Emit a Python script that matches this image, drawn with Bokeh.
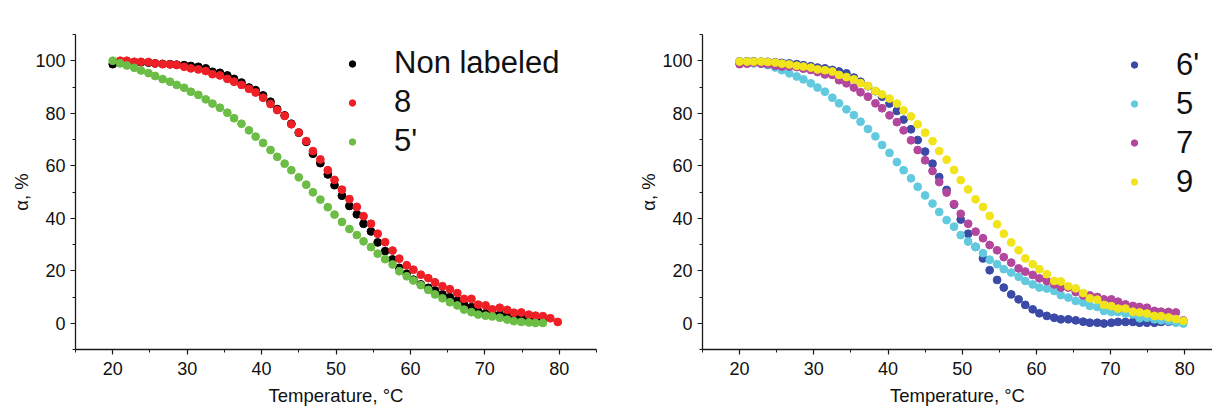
from bokeh.plotting import figure
from bokeh.models import FixedTicker, Legend, LegendItem, Range1d
from bokeh.layouts import row
from bokeh.embed import file_html
from bokeh.resources import INLINE

# ---------------- data ----------------
temperature = [20.0, 21.0, 21.9, 22.9, 23.8, 24.8, 25.7, 26.7, 27.7, 28.6,
               29.6, 30.5, 31.5, 32.5, 33.4, 34.4, 35.4, 36.3, 37.3, 38.3,
               39.2, 40.2, 41.2, 42.1, 43.1, 44.0, 45.0, 46.0, 46.9, 47.9,
               48.9, 49.8, 50.8, 51.8, 52.8, 53.7, 54.7, 55.6, 56.6, 57.6,
               58.5, 59.5, 60.4, 61.4, 62.4, 63.3, 64.3, 65.3, 66.3, 67.2,
               68.2, 69.1, 70.1, 71.0, 72.0, 73.0, 73.9, 74.9, 75.9, 76.8,
               77.8, 78.8, 79.8]

# left panel
non_labeled = [98.7, 99.3, 99.5, 99.5, 99.4, 99.3, 99.0, 98.8, 98.7, 98.5,
               98.3, 98.0, 97.7, 97.1, 95.8, 95.4, 94.4, 93.1, 91.7, 89.8,
               88.8, 86.8, 84.4, 81.6, 79.2, 76.0, 72.6, 69.1, 64.6, 61.0,
               56.7, 52.6, 48.6, 44.7, 41.5, 37.9, 35.0, 30.8, 27.5, 24.3,
               21.1, 18.9, 16.6, 14.8, 13.5, 12.5, 11.0, 9.9, 8.6, 7.2,
               6.1, 4.5, 3.8, 3.4, 3.3, 2.8, 2.4, 2.2, 1.8, 1.6, 1.4]
label_8 = [100.0, 100.0, 99.6, 99.6, 99.5, 99.0, 98.7, 98.6, 98.4, 97.7,
           97.1, 96.7, 96.1, 94.9, 94.4, 93.1, 92.0, 90.8, 89.3, 87.9,
           85.9, 83.5, 81.2, 79.0, 75.8, 72.7, 69.4, 65.6, 62.4, 58.3,
           54.6, 50.9, 47.3, 44.3, 40.8, 37.9, 34.1, 30.9, 27.7, 24.6,
           22.1, 20.4, 18.5, 17.2, 15.6, 14.1, 13.0, 11.5, 9.3, 9.3,
           7.1, 6.8, 5.3, 5.9, 5.1, 4.0, 4.1, 3.3, 2.9, 2.7, 1.9, 0.5]
label_5p = [100.0, 99.0, 98.2, 97.3, 96.3, 95.3, 94.2, 93.0, 92.0, 90.8,
            89.7, 88.2, 87.0, 85.3, 83.7, 82.1, 80.2, 78.1, 76.0, 73.5,
            71.1, 68.7, 66.0, 63.4, 60.8, 58.3, 55.6, 52.8, 49.9, 47.1,
            44.2, 41.4, 38.6, 35.9, 33.6, 31.2, 29.0, 26.5, 24.4, 22.4,
            19.8, 17.9, 16.3, 14.5, 12.7, 11.0, 9.5, 8.0, 6.8, 5.2,
            4.2, 3.3, 2.9, 2.6, 2.1, 1.4, 0.8, 0.5, 0.3, 0.1, 0.1]

# right panel
label_6p = [99.8, 99.8, 99.8, 99.7, 99.6, 99.4, 99.2, 99.0, 98.7, 98.3,
            97.9, 97.4, 97.1, 96.5, 95.9, 95.2, 93.6, 92.0, 90.3, 88.4,
            86.3, 83.7, 80.9, 77.6, 73.9, 69.8, 65.4, 60.8, 55.7, 50.8,
            45.2, 39.5, 34.1, 29.1, 24.7, 20.2, 16.5, 13.6, 11.0, 9.1,
            7.0, 5.3, 3.8, 2.8, 2.1, 1.5, 1.5, 1.1, 0.6, 0.2,
            0.2, -0.1, 0.2, 0.5, 0.5, 0.5, 0.2, 0.2, 0.2, 0.5, 0.6, 0.9]
label_5 = [99.7, 99.3, 99.0, 98.9, 98.3, 97.4, 96.4, 95.2, 94.0, 92.9,
           91.4, 89.8, 88.2, 85.9, 83.8, 81.5, 79.3, 76.8, 74.0, 71.2,
           67.9, 64.9, 61.4, 58.3, 55.2, 52.0, 48.7, 45.6, 42.4, 39.3,
           36.8, 33.6, 31.1, 29.1, 26.7, 24.2, 22.5, 20.6, 19.3, 17.7,
           16.1, 14.8, 13.6, 13.2, 12.3, 10.7, 9.8, 8.5, 7.9, 6.6,
           6.2, 4.7, 4.3, 4.3, 3.7, 3.4, 1.9, 2.1, 1.5, 1.1, 0.9, 0.2, -0.1]
label_7 = [98.7, 98.9, 99.3, 98.9, 98.7, 98.1, 97.8, 97.8, 97.6, 97.0,
           96.5, 95.7, 94.8, 94.6, 92.6, 91.4, 89.8, 88.0, 86.3, 83.8,
           81.9, 79.2, 76.6, 73.5, 69.7, 66.0, 62.1, 58.0, 53.8, 49.8,
           45.4, 41.7, 37.9, 34.9, 32.4, 29.8, 27.8, 25.2, 23.1, 20.9,
           19.7, 18.4, 17.1, 16.1, 14.8, 13.6, 13.6, 11.9, 10.6, 10.6,
           10.0, 9.1, 9.1, 8.2, 7.2, 6.6, 6.2, 5.9, 4.7, 4.4, 4.3, 4.1, 1.1]
label_9 = [99.7, 99.7, 99.7, 99.7, 99.5, 99.3, 98.9, 98.6, 98.1, 97.8,
           97.4, 96.7, 96.4, 95.9, 94.6, 93.8, 92.9, 91.5, 90.4, 88.5,
           87.2, 85.6, 83.7, 81.1, 78.8, 75.8, 72.6, 69.4, 65.6, 62.3,
           58.4, 54.5, 51.0, 47.2, 44.3, 40.9, 37.7, 34.1, 30.8, 27.8,
           24.7, 22.5, 20.6, 18.7, 16.1, 15.9, 14.1, 13.3, 11.5, 9.5,
           9.0, 7.0, 6.5, 5.6, 5.6, 4.4, 4.1, 3.7, 2.8, 2.7, 2.2, 1.6, 0.9]

x_major = [20, 30, 40, 50, 60, 70, 80]
x_minor = [15, 25, 35, 45, 55, 65, 75, 85]
y_major = [0, 20, 40, 60, 80, 100]
y_minor = [-10, 10, 30, 50, 70, 90, 110]

left_names = ["Non labeled", "8", "5'"]
right_names = ["6'", "5", "7", "9"]
left_colors = ["#000000", "#ee2026", "#6cbd45"]
right_colors = ["#3a4aa6", "#62cadf", "#b3469d", "#f2e41c"]

FONT = "Liberation Sans"


def make_fig(x_end, frame_w, b_left, b_right):
    p = figure(frame_width=frame_w, frame_height=315,
               x_range=Range1d(15, x_end), y_range=Range1d(-10, 110),
               output_backend="svg", toolbar_location=None,
               min_border_left=b_left, min_border_right=b_right,
               min_border_top=34, min_border_bottom=59)
    p.grid.visible = False
    p.outline_line_color = None
    p.background_fill_color = "white"
    p.border_fill_color = "white"
    for ax in (p.xaxis[0], p.yaxis[0]):
        ax.axis_line_color = "#1a1a1a"
        ax.axis_line_width = 1.3
        ax.major_tick_line_color = "#1a1a1a"
        ax.minor_tick_line_color = "#1a1a1a"
        ax.major_tick_line_width = 1.2
        ax.minor_tick_line_width = 1.0
        ax.major_tick_in = 0
        ax.major_tick_out = 5
        ax.minor_tick_in = 0
        ax.minor_tick_out = 3
        ax.major_label_text_font = FONT
        ax.major_label_text_font_size = "18px"
        ax.major_label_text_color = "#111111"
        ax.axis_label_text_font = FONT
        ax.axis_label_text_font_style = "normal"
        ax.axis_label_text_color = "#111111"
    p.xaxis.axis_label_text_font_size = "18.5px"
    p.yaxis.axis_label_text_font_size = "18.5px"
    p.xaxis.ticker = FixedTicker(ticks=x_major, minor_ticks=x_minor)
    p.yaxis.ticker = FixedTicker(ticks=y_major, minor_ticks=y_minor)
    p.xaxis.axis_label = "Temperature, \u00b0C"
    p.yaxis.axis_label = "\u03b1, %"
    p.xaxis.major_label_standoff = 7
    p.xaxis.axis_label_standoff = 7
    p.yaxis.major_label_standoff = 5
    p.yaxis.axis_label_standoff = 0
    return p


def add_legend(p, items, loc):
    lg = Legend(items=items, location=loc, orientation="vertical",
                label_text_font=FONT, label_text_font_size="31px",
                label_text_color="#111111", label_text_line_height=1.0,
                glyph_width=16, glyph_height=39, label_height=39,
                label_standoff=34, spacing=0, padding=0, margin=0,
                border_line_color=None, background_fill_alpha=0)
    p.add_layout(lg)


# left figure
p1 = make_fig(85, 521, 75, 32)
left_series = [non_labeled, label_8, label_5p]
left_x = [temperature[:61], temperature[1:], temperature[:61]]
items = []
for name, col, xs, ys in zip(left_names, left_colors, left_x, left_series):
    r = p1.scatter(xs, ys, size=7.8, color=col, line_color=col)
    items.append(LegendItem(label=name, renderers=[r]))
add_legend(p1, items, (269, 188.5))

# right figure
p2 = make_fig(83.73, 510, 74, 0)
right_series = [label_6p, label_5, label_7, label_9]
right_x = [temperature[:62], temperature, temperature, temperature]
items = []
for name, col, xs, ys in zip(right_names, right_colors, right_x, right_series):
    r = p2.scatter(xs, ys, size=7.8, color=col, line_color=col)
    items.append(LegendItem(label=name, renderers=[r]))
add_legend(p2, items, (424, 148))

layout = row(p1, p2)
open("out.html", "w").write(file_html(layout, INLINE))
